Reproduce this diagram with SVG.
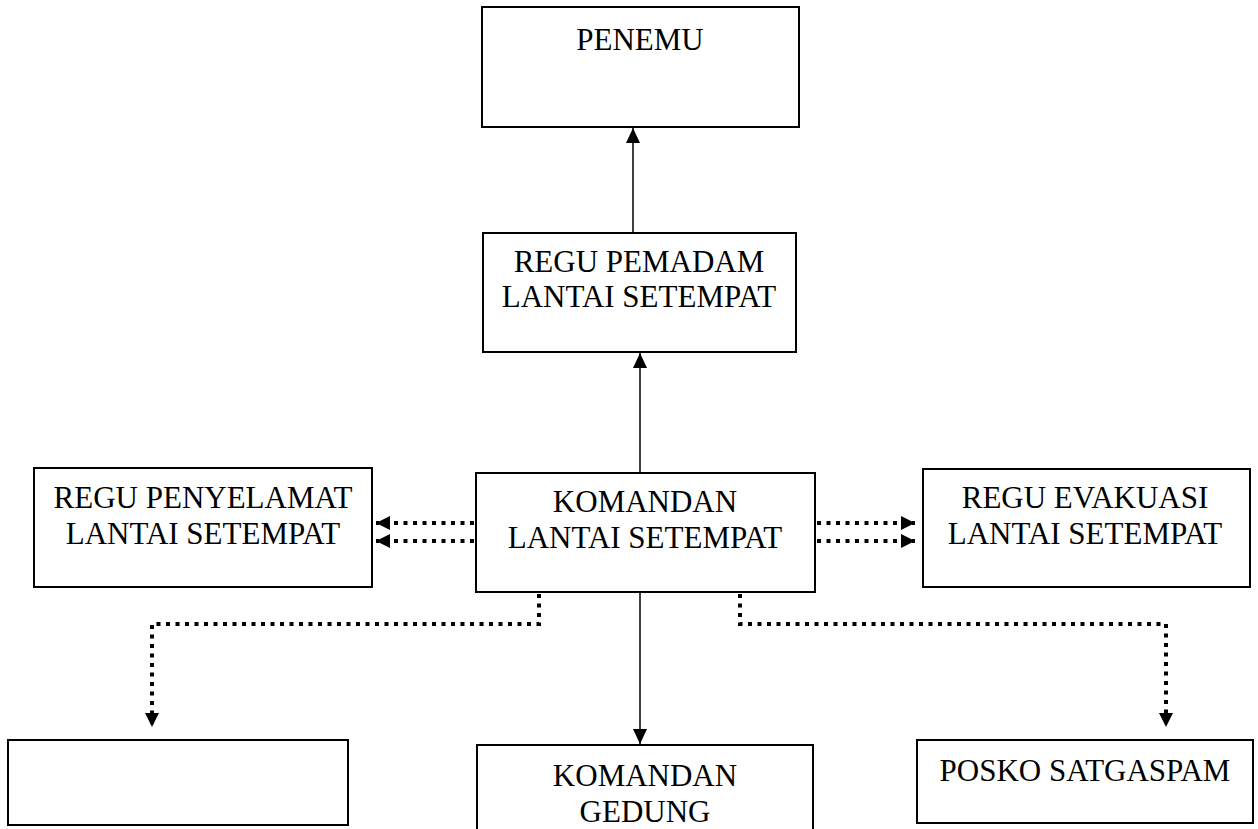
<svg xmlns="http://www.w3.org/2000/svg" width="1258" height="829" viewBox="0 0 1258 829">
<style>
.box{fill:#fff;stroke:#000;stroke-width:2}
.t{font-family:"Liberation Serif","Times New Roman",serif;font-size:31px;fill:#000;text-anchor:middle}
.solid{fill:none;stroke:#000;stroke-width:1.5}
.dot{fill:none;stroke:#000;stroke-width:4;stroke-dasharray:4 5.5}
</style>
<defs>
<marker id="arr" markerUnits="userSpaceOnUse" markerWidth="16" markerHeight="14" refX="15" refY="7" orient="auto">
<path d="M0,0 L15,7 L0,14 z" fill="#000"/>
</marker>
<marker id="darr" markerUnits="userSpaceOnUse" markerWidth="15" markerHeight="14" refX="14" refY="7" orient="auto">
<path d="M0,0 L14,7 L0,14 z" fill="#000"/>
</marker>
</defs>
<rect width="1258" height="829" fill="#fff"/>
<g id="connectors">
<line class="solid" x1="633" y1="233" x2="633" y2="128" marker-end="url(#arr)"/>
<line class="solid" x1="640" y1="473" x2="640" y2="353" marker-end="url(#arr)"/>
<line class="solid" x1="640" y1="592" x2="640" y2="744" marker-end="url(#arr)"/>
<line class="dot" x1="474" y1="523" x2="376" y2="523" marker-end="url(#darr)"/>
<line class="dot" x1="474" y1="541" x2="376" y2="541" marker-end="url(#darr)"/>
<line class="dot" x1="817" y1="523" x2="915" y2="523" marker-end="url(#darr)"/>
<line class="dot" x1="817" y1="541" x2="915" y2="541" marker-end="url(#darr)"/>
<polyline class="dot" points="539,594 539,624 152,624 152,727" marker-end="url(#darr)"/>
<polyline class="dot" points="740,594 740,624 1166,624 1166,727" marker-end="url(#darr)"/>
</g>
<g id="penemu">
<rect class="box" x="482" y="7" width="317" height="120"/>
<text class="t" x="640" y="50">PENEMU</text>
</g>
<g id="regu-pemadam">
<rect class="box" x="483" y="233" width="313" height="119"/>
<text class="t" x="639" y="272">REGU PEMADAM</text>
<text class="t" x="639" y="307">LANTAI SETEMPAT</text>
</g>
<g id="komandan-lantai">
<rect class="box" x="476" y="473" width="339" height="119"/>
<text class="t" x="645" y="512">KOMANDAN</text>
<text class="t" x="645" y="548">LANTAI SETEMPAT</text>
</g>
<g id="regu-penyelamat">
<rect class="box" x="34" y="468" width="338" height="119"/>
<text class="t" x="203" y="508">REGU PENYELAMAT</text>
<text class="t" x="203" y="544">LANTAI SETEMPAT</text>
</g>
<g id="regu-evakuasi">
<rect class="box" x="923" y="469" width="327" height="118"/>
<text class="t" x="1085" y="508">REGU EVAKUASI</text>
<text class="t" x="1085" y="544">LANTAI SETEMPAT</text>
</g>
<g id="kosong">
<rect class="box" x="8" y="740" width="340" height="85"/>
</g>
<g id="komandan-gedung">
<rect class="box" x="477" y="745" width="336" height="100"/>
<text class="t" x="645" y="786">KOMANDAN</text>
<text class="t" x="645" y="822">GEDUNG</text>
</g>
<g id="posko">
<rect class="box" x="917" y="740" width="336" height="83"/>
<text class="t" x="1085" y="781">POSKO SATGASPAM</text>
</g>
</svg>
